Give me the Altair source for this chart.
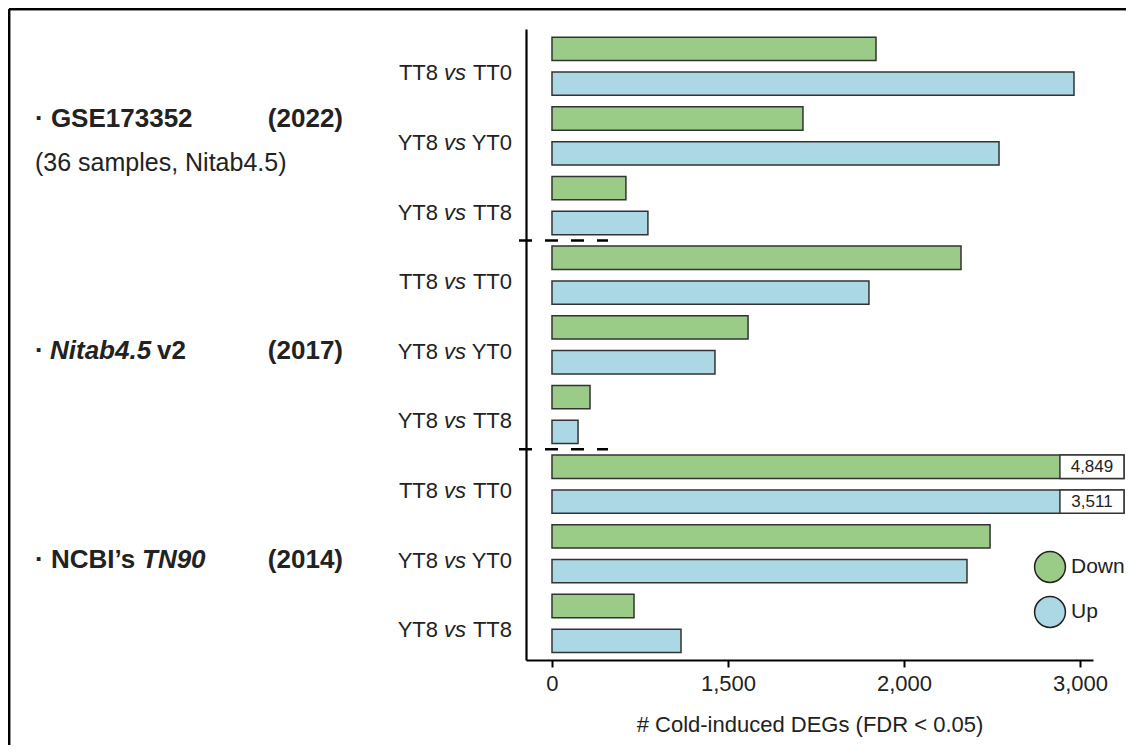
import altair as alt
import pandas as pd

# ---------------- data ----------------
datasets = ["GSE173352", "Nitab4.5 v2", "NCBI’s TN90"]
years = ["(2022)", "(2017)", "(2014)"]
comparisons = ["TT8 vs TT0", "YT8 vs YT0", "YT8 vs TT8"]
comp_left = ["TT8", "YT8", "YT8"]
comp_right = ["TT0", "YT0", "TT8"]
directions = ["Down", "Up"]
down_counts = [[1841, 1426, 420], [2324, 1114, 216], [4849, 2489, 466]]
up_counts = [[2966, 2540, 545], [1801, 926, 148], [3511, 2358, 733]]
tick_values = [0, 1000, 2000, 3000]
tick_labels = ["0", "1,500", "2,000", "3,000"]
axis_title = "# Cold-induced DEGs (FDR < 0.05)"
subtitle = "(36 samples, Nitab4.5)"

# display parameters of the broken bars
AXIS_MAX = 3000
BAR_CAP = 3250
BOX_START = 2886

GREEN = "#9acc87"
BLUE = "#acd8e5"
INK = "#222222"
FONT = "Liberation Sans"

rows = []
for g in range(3):
    for c in range(3):
        for d, counts in enumerate([down_counts, up_counts]):
            rows.append({
                "dataset": datasets[g], "comparison": comparisons[c],
                "dir": directions[d], "value": counts[g][c],
                "row": g * 6 + c * 2 + d,
            })
bars_df = pd.DataFrame(rows)

comp_df = pd.DataFrame([
    {"g": g, "c": c, "left": comp_left[c], "vs": "vs", "right": comp_right[c],
     "row": g * 6 + c * 2 + 0.5}
    for g in range(3) for c in range(3)
])
group_df = pd.DataFrame([
    {"g": g, "year": years[g], "center": g * 6 + 2.5} for g in range(3)
])
sep_df = pd.DataFrame({"row": [g * 6 - 0.5 for g in (1, 2)]})

xscale = alt.Scale(domain=[-147.7, 3074], nice=False, zero=False)
yscale = alt.Scale(domain=[-0.57, 17.55], nice=False, zero=False, reverse=True)
cscale = alt.Scale(domain=directions, range=[GREEN, BLUE])

label_expr = "[" + ",".join(f"'{t}'" for t in tick_labels) + "][indexof([" + \
    ",".join(str(v) for v in tick_values) + "], datum.value)]"

base = alt.Chart(bars_df).transform_calculate(
    zero="0",
    shown=f"min(datum.value, {BAR_CAP})",
    y0="datum.row - 0.335",
    y1="datum.row + 0.335",
)

bars = base.mark_bar(stroke="#333333", strokeWidth=1.5).encode(
    x=alt.X("zero:Q", scale=xscale, axis=alt.Axis(
        values=tick_values, labelExpr=label_expr, title=axis_title,
        grid=False, domainColor="black", domainWidth=2.2, tickColor="black",
        tickWidth=2, tickSize=7, labelFontSize=22, labelFont=FONT,
        labelColor=INK, labelPadding=6, titleFontSize=22, titleFont=FONT,
        titleFontWeight="normal", titleColor=INK, titlePadding=20,
        labelFlush=False)),
    x2="shown:Q",
    y=alt.Y("y0:Q", scale=yscale, axis=alt.Axis(
        labels=False, ticks=False, grid=False, title=None,
        domainColor="black", domainWidth=2.2)),
    y2="y1:Q",
    color=alt.Color("dir:N", scale=cscale, legend=None),
)

trunc = base.transform_filter(f"datum.value > {AXIS_MAX}").transform_calculate(
    box0=str(BOX_START), mid=f"({BOX_START} + {BAR_CAP}) / 2"
)
boxes = trunc.mark_bar(color="white", stroke="#333333", strokeWidth=1.5).encode(
    x="box0:Q", x2="shown:Q", y="y0:Q", y2="y1:Q"
)
box_text = trunc.mark_text(fontSize=17, font=FONT, color=INK, baseline="middle").encode(
    x="mid:Q", y="row:Q", text=alt.Text("value:Q", format=",")
)

seps = alt.Chart(sep_df).mark_rule(
    color="black", strokeWidth=2.5, strokeDash=[13, 13]
).encode(y="row:Q", x=alt.value(-7), x2=alt.value(82))

cbase = alt.Chart(comp_df)
ctxt = dict(fontSize=22, font=FONT, color=INK, baseline="middle", dy=7, align="right")
comp_l = cbase.mark_text(**ctxt).encode(x=alt.value(-88), y="row:Q", text="left:N")
comp_v = cbase.mark_text(fontStyle="italic", **ctxt).encode(x=alt.value(-60), y="row:Q", text="vs:N")
comp_r = cbase.mark_text(**ctxt).encode(x=alt.value(-14), y="row:Q", text="right:N")

gbase = alt.Chart(group_df)
gt = dict(fontSize=26, font=FONT, color=INK, fontWeight="bold", baseline="middle")
year0 = gbase.transform_filter("datum.g == 0").mark_text(align="right", dy=-17, **gt).encode(
    x=alt.value(-183), y="center:Q", text="year:N")
years12 = gbase.transform_filter("datum.g > 0").mark_text(align="right", dy=6, **gt).encode(
    x=alt.value(-183), y="center:Q", text="year:N")
g0_name = gbase.transform_filter("datum.g == 0").mark_text(
    align="left", dy=-17, text="· " + datasets[0], **gt).encode(x=alt.value(-491), y="center:Q")
g0_sub = gbase.transform_filter("datum.g == 0").mark_text(
    align="left", dy=27, text=subtitle, fontSize=25, font=FONT, color=INK,
    baseline="middle").encode(x=alt.value(-491), y="center:Q")
g1_dot = gbase.transform_filter("datum.g == 1").mark_text(
    align="left", dy=6, text="·", **gt).encode(x=alt.value(-491), y="center:Q")
g1_it = gbase.transform_filter("datum.g == 1").mark_text(
    align="left", dy=6, text=datasets[1].split(" ")[0], fontStyle="italic", **gt
).encode(x=alt.value(-476), y="center:Q")
g1_v = gbase.transform_filter("datum.g == 1").mark_text(
    align="left", dy=6, text=datasets[1].split(" ")[1], **gt).encode(x=alt.value(-369), y="center:Q")
g2_name = gbase.transform_filter("datum.g == 2").mark_text(
    align="left", dy=6, text="· " + datasets[2].split(" ")[0], **gt).encode(x=alt.value(-491), y="center:Q")
g2_it = gbase.transform_filter("datum.g == 2").mark_text(
    align="left", dy=6, text=datasets[2].split(" ")[1], fontStyle="italic", **gt
).encode(x=alt.value(-384), y="center:Q")

leg_df = pd.DataFrame({"dir": directions})
lbase = alt.Chart(leg_df)
leg_layers = []
for i, (yy, name) in enumerate(zip([538, 583], directions)):
    sub = lbase.transform_filter(f"datum.dir == '{name}'")
    leg_layers.append(sub.mark_point(filled=True, size=950, stroke="#222222",
                                     strokeWidth=1.5, opacity=1, strokeOpacity=1).encode(
        x=alt.value(524), y=alt.value(yy),
        fill=alt.Fill("dir:N", scale=cscale, legend=None)))
    leg_layers.append(sub.mark_text(align="left", baseline="middle", fontSize=21,
                                    font=FONT, color=INK).encode(
        x=alt.value(545), y=alt.value(yy), text="dir:N"))

frame_top = lbase.mark_rule(color="black", strokeWidth=2.5).encode(
    x=alt.value(-517), x2=alt.value(620), y=alt.value(-20))
frame_left = lbase.mark_rule(color="black", strokeWidth=2.5).encode(
    x=alt.value(-517), y=alt.value(-20), y2=alt.value(740))

chart = alt.layer(
    bars, boxes, box_text, seps, comp_l, comp_v, comp_r,
    year0, years12, g0_name, g0_sub, g1_dot, g1_it, g1_v, g2_name, g2_it,
    *leg_layers, frame_top, frame_left,
).properties(
    width=567, height=631,
    autosize=alt.AutoSizeParams(type="none"),
    padding={"left": 518, "top": 21, "right": 33, "bottom": 85},
).configure_view(stroke=None)

chart.save("out.html", embed_options={"renderer": "svg", "actions": False})
